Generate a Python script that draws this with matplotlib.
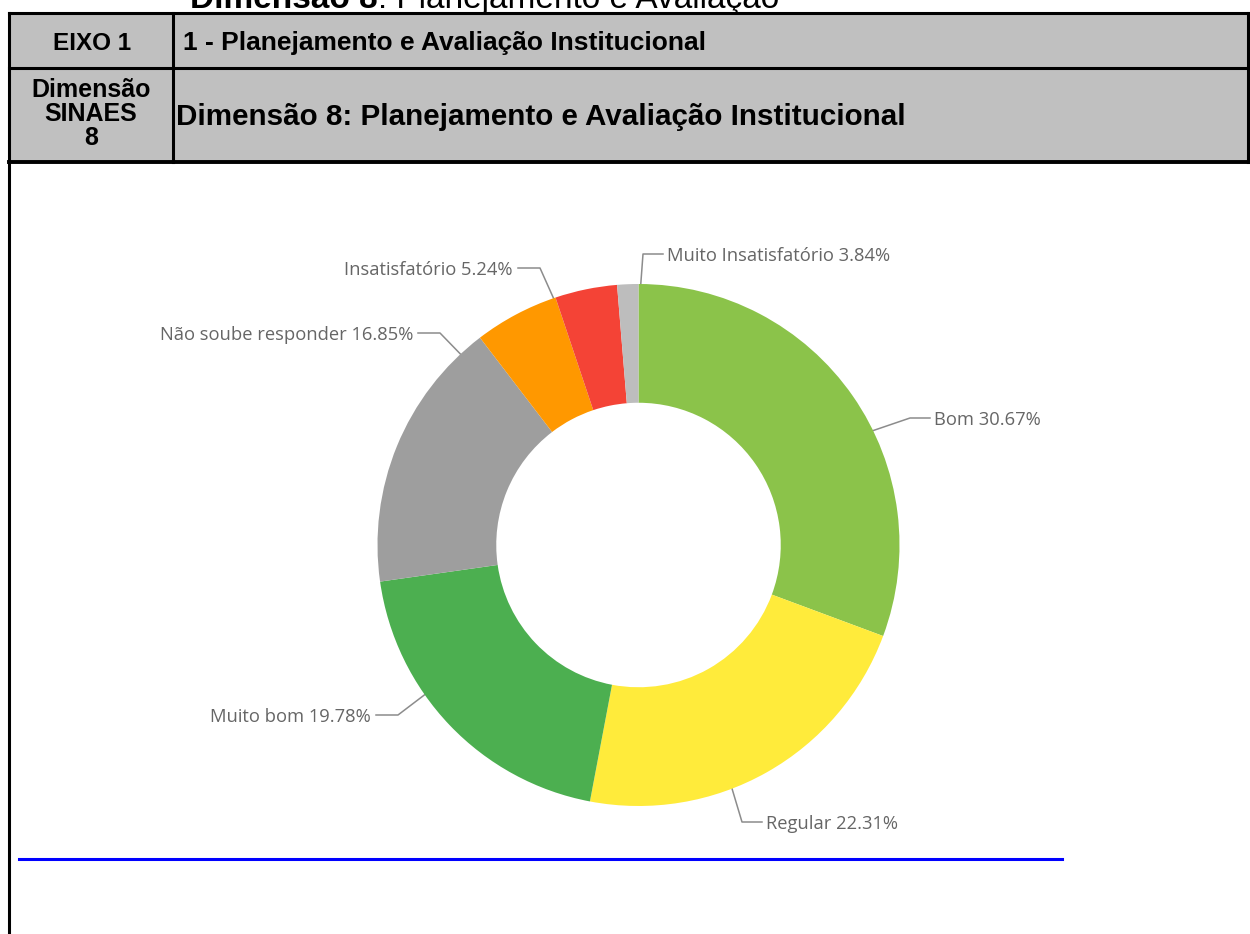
import matplotlib.pyplot as plt
import numpy as np

# data
categories = ["Bom", "Regular", "Muito bom", "Não soube responder",
              "Insatisfatório", "Muito Insatisfatório", "Outros"]
values = [30.67, 22.31, 19.78, 16.85, 5.24, 3.84, 1.31]
colors = ["#8BC34A", "#FFEB3B", "#4CAF50", "#9E9E9E",
          "#FF9800", "#F44336", "#BDBDBD"]
show_label = [True, True, True, True, True, True, False]

# label layout: angle on the ring (clockwise from top), elbow point (px), side
label_layout = {
    "Bom": (64, (910, 418), "right"),
    "Regular": (159, (742, 822), "right"),
    "Muito bom": (235, (398, 715), "left"),
    "Não soube responder": (317, (440, 333), "left"),
    "Insatisfatório": (341, (540, 268), "left"),
    "Muito Insatisfatório": (0.5, (643, 254), "right"),
}

W, H = 1250, 934
fig = plt.figure(figsize=(W / 100, H / 100), dpi=100)
ax = fig.add_axes([0, 0, 1, 1])
ax.set_xlim(0, W)
ax.set_ylim(H, 0)
ax.axis("off")

hdr = ["Liberation Sans", "DejaVu Sans"]
gray = "#C0C0C0"

# header table
ax.add_patch(plt.Rectangle((9, 13), 1239, 149, facecolor=gray, edgecolor="none"))
lw = 2.2
ax.plot([9, 1248], [13, 13], color="black", lw=lw)
ax.plot([9, 1248], [68, 68], color="black", lw=lw)
ax.plot([9, 1250], [162, 162], color="black", lw=lw + 0.6)
ax.plot([9, 9], [13, H], color="black", lw=lw)
ax.plot([173, 173], [13, 162], color="black", lw=lw)
ax.plot([1248, 1248], [13, 162], color="black", lw=lw)

ax.text(92, 43, "EIXO 1", ha="center", va="center", fontsize=17.5,
        fontweight="bold", family=hdr)
ax.text(183, 43, "1 - Planejamento e Avaliação Institucional", ha="left",
        va="center", fontsize=19, fontweight="bold", family=hdr)
ax.text(91, 114, "Dimensão\nSINAES\n8", ha="center", va="center",
        fontsize=18, fontweight="bold", family=hdr, linespacing=1.02)
ax.text(176, 117, "Dimensão 8: Planejamento e Avaliação Institucional",
        ha="left", va="center", fontsize=21.3, fontweight="bold", family=hdr)

# clipped page title above the table
t1 = ax.text(190, 8, "Dimensão 8", ha="left", va="baseline", fontsize=24,
             fontweight="bold", family=hdr)
ax.annotate(": Planejamento e Avaliação", xy=(1, 0), xycoords=t1,
            ha="left", va="bottom", fontsize=24, family=hdr)

# blue rule below the chart
ax.plot([19, 1062], [859, 859], color="#0000FF", lw=2.2)

# donut (clockwise from the top)
cx, cy, R = 638.5, 545, 261
pax = fig.add_axes([(cx - R) / W, (H - cy - R) / H, 2 * R / W, 2 * R / H])
pax.pie(values, colors=colors, startangle=90, counterclock=False,
        radius=1, wedgeprops=dict(width=0.455, edgecolor="none"))
pax.set_xlim(-1, 1)
pax.set_ylim(-1, 1)
pax.axis("off")

lab_font = ["Open Sans", "DejaVu Sans"]
for cat, val, show in zip(categories, values, show_label):
    if not show:
        continue
    ang, (ex, ey), side = label_layout[cat]
    a = np.radians(ang)
    axp = cx + R * np.sin(a)
    ayp = cy - R * np.cos(a)
    hx = ex + 20 if side == "right" else ex - 22
    ax.plot([axp, ex, hx], [ayp, ey, ey], color="#8C8C8C", lw=1.1,
            zorder=5)
    tx = hx + 4 if side == "right" else hx - 5
    ax.text(tx, ey + 2, f"{cat} {val:.2f}%", ha="left" if side == "right" else "right",
            va="center", fontsize=13.2, color="#666666", family=lab_font)

fig.savefig("out.png", dpi=100)
